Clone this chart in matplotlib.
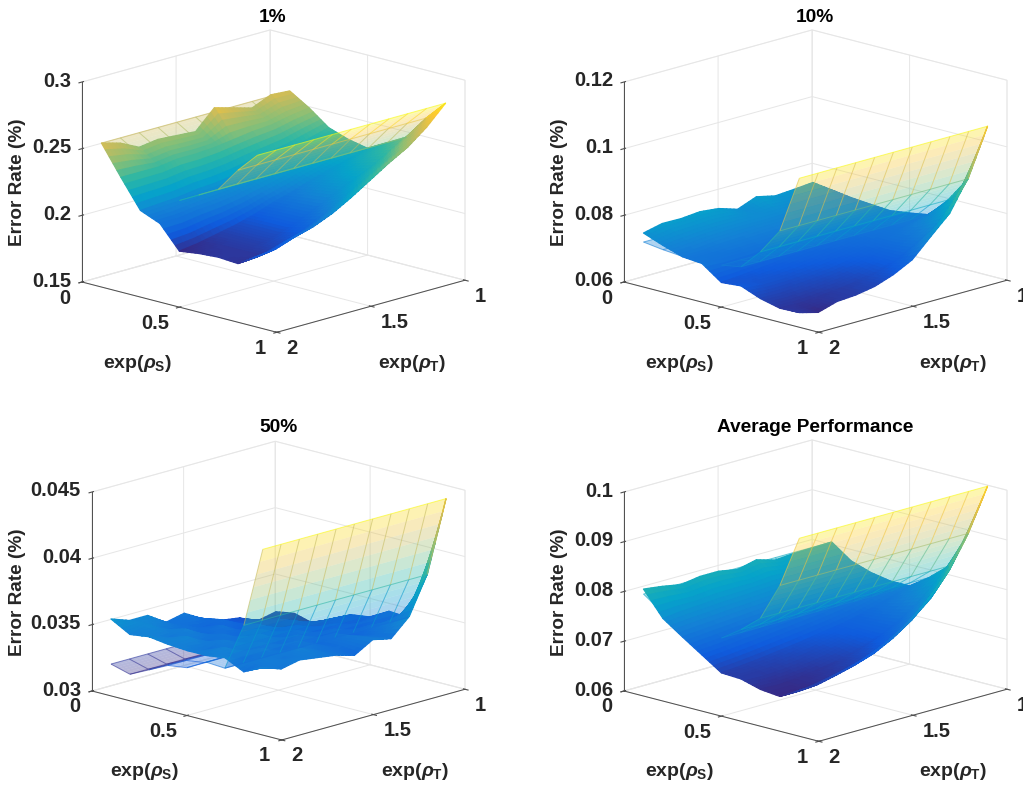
import numpy as np
import matplotlib
matplotlib.use('Agg')
import matplotlib.pyplot as plt
from matplotlib.colors import LinearSegmentedColormap, Normalize
from mpl_toolkits.mplot3d import proj3d
from mpl_toolkits.mplot3d.art3d import Line3DCollection

plt.rcParams['font.family'] = ['Liberation Sans', 'DejaVu Sans']
plt.rcParams['font.weight'] = 'bold'
plt.rcParams['mathtext.fontset'] = 'custom'
plt.rcParams['mathtext.rm'] = 'Liberation Sans:bold'
plt.rcParams['mathtext.it'] = 'Liberation Sans:italic'
plt.rcParams['mathtext.bf'] = 'Liberation Sans:bold'

# rows follow exp(rho_S), columns follow exp(rho_T)
rho_s = [0.1, 0.2, 0.3, 0.4, 0.5, 0.6, 0.7, 0.8, 0.9]
rho_t = [2.0, 1.9, 1.8, 1.7, 1.6, 1.5, 1.4, 1.3, 1.2, 1.1, 1.0]

err_1 = [
    [.258, .254, .247, .249, .248, .247, .261, .257, .253, .259, .258],
    [.236, .236, .236, .238, .238, .239, .241, .243, .244, .247, .249],
    [.215, .216, .217, .219, .220, .222, .225, .227, .230, .234, .238],
    [.209, .209, .211, .212, .214, .217, .220, .223, .226, .229, .233],
    [.192, .194, .197, .200, .204, .209, .213, .218, .222, .226, .230],
    [.194, .195, .197, .200, .205, .210, .216, .221, .226, .232, .238],
    [.195, .195, .197, .200, .205, .211, .218, .224, .230, .238, .246],
    [.194, .195, .199, .203, .209, .217, .225, .233, .241, .252, .264],
    [.203, .205, .210, .214, .220, .228, .237, .246, .254, .265, .279],
]
err_10 = [
    [.0762, .0775, .0774, .0779, .0773, .0755, .0777, .0764, .0768, .0773, .0735],
    [.0740, .0745, .0750, .0752, .0752, .0750, .0752, .0750, .0748, .0745, .0727],
    [.0721, .0722, .0728, .0730, .0732, .0734, .0735, .0735, .0733, .0730, .0722],
    [.0716, .0712, .0712, .0714, .0716, .0718, .0720, .0722, .0722, .0720, .0718],
    [.0674, .0678, .0684, .0690, .0696, .0702, .0708, .0714, .0718, .0722, .0726],
    [.0679, .0672, .0672, .0676, .0682, .0690, .0698, .0708, .0716, .0726, .0736],
    [.0656, .0655, .0658, .0662, .0668, .0678, .0690, .0706, .0726, .0755, .0796],
    [.0642, .0640, .0644, .0650, .0658, .0670, .0688, .0714, .0746, .0796, .0874],
    [.0644, .0629, .0646, .0650, .0660, .0680, .0709, .0764, .0818, .0912, .1047],
]
err_50 = [
    [.0358, .0353, .0353, .0344, .0347, .0339, .0334, .0332, .0326, .0329, .0324],
    [.0350, .0353, .0346, .0344, .0340, .0342, .0335, .0332, .0331, .0325, .0320],
    [.0352, .0347, .0350, .0342, .0345, .0337, .0338, .0331, .0333, .0328, .0327],
    [.0350, .0352, .0344, .0346, .0339, .0342, .0336, .0337, .0332, .0335, .0334],
    [.0349, .0345, .0349, .0343, .0346, .0338, .0341, .0335, .0338, .0334, .0336],
    [.0349, .0351, .0344, .0347, .0341, .0345, .0339, .0342, .0337, .0341, .0344],
    [.0351, .0345, .0350, .0344, .0348, .0342, .0346, .0340, .0345, .0342, .0343],
    [.0344, .0349, .0346, .0350, .0345, .0343, .0347, .0344, .0349, .0358, .0379],
    [.0351, .0346, .0349, .0347, .0345, .0341, .0349, .0346, .0359, .0388, .0440],
]
err_avg = [
    [.0815, .0810, .0803, .0809, .0809, .0802, .0811, .0800, .0803, .0804, .0805],
    [.0766, .0770, .0772, .0775, .0776, .0778, .0780, .0780, .0780, .0779, .0777],
    [.0739, .0742, .0745, .0748, .0751, .0754, .0757, .0759, .0761, .0763, .0764],
    [.0713, .0716, .0720, .0724, .0728, .0732, .0736, .0741, .0746, .0752, .0757],
    [.0687, .0690, .0694, .0699, .0704, .0710, .0716, .0723, .0733, .0745, .0757],
    [.0685, .0684, .0686, .0690, .0696, .0704, .0713, .0725, .0740, .0760, .0784],
    [.0674, .0673, .0676, .0681, .0688, .0698, .0711, .0728, .0750, .0780, .0817],
    [.0670, .0671, .0677, .0684, .0694, .0708, .0727, .0751, .0783, .0830, .0893],
    [.0691, .0694, .0703, .0713, .0726, .0746, .0772, .0809, .0852, .0916, .0998],
]

titles = ['1%', '10%', '50%', 'Average Performance']
s_ticks = [0, 0.5, 1]
t_ticks = [2, 1.5, 1]
s_labels = ['0', '0.5', '1']
t_labels = ['2', '1.5', '1']
z_ticks_1 = [.15, .2, .25, .3]
z_ticks_10 = [.06, .08, .1, .12]
z_ticks_50 = [.03, .035, .04, .045]
z_ticks_avg = [.06, .07, .08, .09, .1]
z_labels_1 = ['0.15', '0.2', '0.25', '0.3']
z_labels_10 = ['0.06', '0.08', '0.1', '0.12']
z_labels_50 = ['0.03', '0.035', '0.04', '0.045']
z_labels_avg = ['0.06', '0.07', '0.08', '0.09', '0.1']

parula = LinearSegmentedColormap.from_list('parula', [
    (0.2081, 0.1663, 0.5292), (0.0591, 0.3598, 0.8683), (0.0779, 0.5040, 0.8384),
    (0.0231, 0.6418, 0.7913), (0.1801, 0.7177, 0.6424), (0.5300, 0.7491, 0.4661),
    (0.7858, 0.7356, 0.3633), (0.9955, 0.7861, 0.1967), (0.9763, 0.9831, 0.0538)])

W, H = 1023, 786
ELEV, AZIM = 15.5, 44.0
ct, st = np.cos(np.radians(AZIM)), np.sin(np.radians(AZIM))
DARK = (.15, .15, .15)


def fine_grid(s, t, z, ns=5, nt=5):
    # same idea as MATLAB's shading interp: cut each cell up so the colour runs smoothly
    s, t, z = np.asarray(s), np.asarray(t), np.asarray(z)
    i = np.linspace(0, len(s) - 1, (len(s) - 1) * ns + 1)
    j = np.linspace(0, len(t) - 1, (len(t) - 1) * nt + 1)
    i0 = np.minimum(i.astype(int), len(s) - 2)
    j0 = np.minimum(j.astype(int), len(t) - 2)
    fi, fj = (i - i0)[:, None], (j - j0)[None, :]
    zf = (z[np.ix_(i0, j0)] * (1 - fi) * (1 - fj) + z[np.ix_(i0 + 1, j0)] * fi * (1 - fj)
          + z[np.ix_(i0, j0 + 1)] * (1 - fi) * fj + z[np.ix_(i0 + 1, j0 + 1)] * fi * fj)
    sf = s[i0] + (s[i0 + 1] - s[i0]) * (i - i0)
    tf = t[j0] + (t[j0 + 1] - t[j0]) * (j - j0)
    tt, ss = np.meshgrid(tf, sf)
    return tt, ss, zf


def mesh_lines(ax, s, t, z, norm, alpha, zorder):
    segs, cols = [], []
    for a in range(len(s)):
        for b in range(len(t)):
            for da, db in ((1, 0), (0, 1)):
                if a + da < len(s) and b + db < len(t):
                    segs.append([(t[b], s[a], z[a, b]), (t[b + db], s[a + da], z[a + da, b + db])])
                    cols.append(parula(norm((z[a, b] + z[a + da, b + db]) / 2), alpha=alpha))
    lc = Line3DCollection(segs, colors=cols, linewidths=0.7, zorder=zorder)
    ax.add_collection3d(lc, autolim=False)


def fit_box(ax, zmin, left, right, bottom):
    # move the axes so that the floor corners land on the wanted pixels
    for _ in range(3):
        ax.apply_aspect()
        xs, ys, _z = proj3d.proj_transform(np.array([2.0, 1.0]), np.array([0.0, 1.0]),
                                           np.array([zmin, zmin]), ax.get_proj())
        px = ax.transData.transform(np.c_[xs, ys])
        pos = ax.get_position()
        side = pos.width * W
        cx, cy = (pos.x0 + pos.width / 2) * W, (pos.y0 + pos.height / 2) * H
        scale = (right - left) / (px[1, 0] - px[0, 0])
        nx = left - (px[0, 0] - cx) * scale
        ny = (H - bottom) - (px[0, 1] - cy) * scale
        d = side * scale
        ax.set_position([(nx - d / 2) / W, (ny - d / 2) / H, d / W, d / H])


def tick_text(ax, t, s, z, text, dx, dy, ha='center'):
    # tick labels sit at a pixel offset from the projected tick, as MATLAB places them
    x2, y2, _z = proj3d.proj_transform(np.array([t]), np.array([s]), np.array([z]), ax.get_proj())
    ax.annotate(text, xy=(x2[0], y2[0]), xytext=(dx, dy), textcoords='offset pixels', ha=ha, va='center',
                fontsize=14.5, color=DARK, annotation_clip=False, zorder=6)


fig = plt.figure(figsize=(W / 100, H / 100), dpi=100)

panels = [
    (err_1, z_ticks_1, z_labels_1, (82, 465, 282, 82), 5, (273, 17), (18, 182), (138, 363), (412, 363)),
    (err_10, z_ticks_10, z_labels_10, (624, 1007, 282, 82), 5, (815, 17), (560, 182), (680, 363), (953, 363)),
    (err_50, z_ticks_50, z_labels_50, (92, 465, 691, 492), 7, (278, 427), (18, 592), (145, 772), (415, 772)),
    (err_avg, z_ticks_avg, z_labels_avg, (624, 1007, 691, 492), 5, (815, 427), (560, 592), (680, 772), (953, 772)),
]

for k, (err, z_ticks, z_labels, box, n_back, title_xy, zlab_xy, slab_xy, tlab_xy) in enumerate(panels):
    left, right, bottom, top = box
    z = np.array(err)
    ax = fig.add_axes([0.1, 0.1, 0.4, 0.4 * W / H], projection='3d', computed_zorder=False)
    ax.patch.set_visible(False)
    ax.set_proj_type('ortho')
    ax.view_init(elev=ELEV, azim=AZIM)
    L = (right - left) / (ct + st)
    ax.set_box_aspect((1, 1, (bottom - top) / np.cos(np.radians(ELEV)) / L))

    norm = Normalize(z.min(), z.max())

    # the flat sheet: every T takes the T=1 column
    sheet = np.repeat(z[:, -1:], len(rho_t), axis=1)
    ts, ss, zs = fine_grid(rho_s, rho_t, sheet, ns=6, nt=1)
    nf = 6 * (n_back - 1) + 1
    cols = parula(norm(zs))
    cols[..., 3] = 0.35
    if n_back > 1:
        ax.plot_surface(ts[:nf], ss[:nf], zs[:nf], facecolors=cols[:nf], rstride=1, cstride=1,
                        shade=False, linewidth=0, antialiased=True, zorder=1)
        mesh_lines(ax, rho_s[:n_back], rho_t, sheet[:n_back], norm, 0.6, 1.5)
    ax.plot_surface(ts[nf - 1:], ss[nf - 1:], zs[nf - 1:], facecolors=cols[nf - 1:], rstride=1, cstride=1,
                    shade=False, linewidth=0, antialiased=True, zorder=3)
    mesh_lines(ax, rho_s[n_back - 1:], rho_t, sheet[n_back - 1:], norm, 0.6, 4)

    # the solid surface
    tf, sf, zf = fine_grid(rho_s, rho_t, z)
    surf = ax.plot_surface(tf, sf, zf, facecolors=parula(norm(zf)), rstride=1, cstride=1, shade=False,
                           linewidth=0.9, antialiased=True, zorder=2)
    surf.set_edgecolor(surf._facecolor3d)

    ax.set_xlim(1, 2, view_margin=0)
    ax.set_ylim(0, 1, view_margin=0)
    ax.set_zlim(z_ticks[0], z_ticks[-1], view_margin=0)
    ax.set_xticks(t_ticks)
    ax.set_xticklabels(['', '', ''])
    ax.set_yticks(s_ticks)
    ax.set_yticklabels(['', '', ''])
    ax.set_zticks(z_ticks)
    ax.set_zticklabels([''] * len(z_ticks))
    ax.tick_params(color=(.3, .3, .3), width=0.6)
    ax.zaxis.set_ticks_position('lower')
    for axis in (ax.xaxis, ax.yaxis, ax.zaxis):
        axis.pane.set_facecolor((1, 1, 1, 0))
        axis.pane.set_edgecolor((.88, .88, .88))
        axis.pane.set_linewidth(0.7)
        axis.line.set_color((.3, .3, .3))
        axis.line.set_linewidth(0.7)
        axis._axinfo['grid']['color'] = (.9, .9, .9)
        axis._axinfo['grid']['linewidth'] = 0.7

    fit_box(ax, z_ticks[0], left, right, bottom)

    for s, lab, dx in zip(s_ticks, s_labels, (-17, -24, -17)):
        tick_text(ax, 2.0, s, z_ticks[0], lab, dx, -16)
    for t, lab, dx in zip(t_ticks, t_labels, (15, 24, 15)):
        tick_text(ax, t, 1.0, z_ticks[0], lab, dx, -16)
    for zt, lab in zip(z_ticks, z_labels):
        tick_text(ax, 2.0, 0.0, zt, lab, -11, 1, ha='right')

    fig.text(title_xy[0] / W, 1 - title_xy[1] / H, titles[k], ha='center', va='center', fontsize=13.8, color='k')
    fig.text(zlab_xy[0] / W, 1 - zlab_xy[1] / H, 'Error Rate (%)', rotation=90, ha='center', va='center',
             fontsize=13.7, color=DARK)
    fig.text(slab_xy[0] / W, 1 - slab_xy[1] / H, r'exp($\rho_{\mathrm{S}}$)', ha='center', va='center',
             fontsize=14, color=DARK)
    fig.text(tlab_xy[0] / W, 1 - tlab_xy[1] / H, r'exp($\rho_{\mathrm{T}}$)', ha='center', va='center',
             fontsize=14, color=DARK)

fig.savefig('out.png', dpi=100)
